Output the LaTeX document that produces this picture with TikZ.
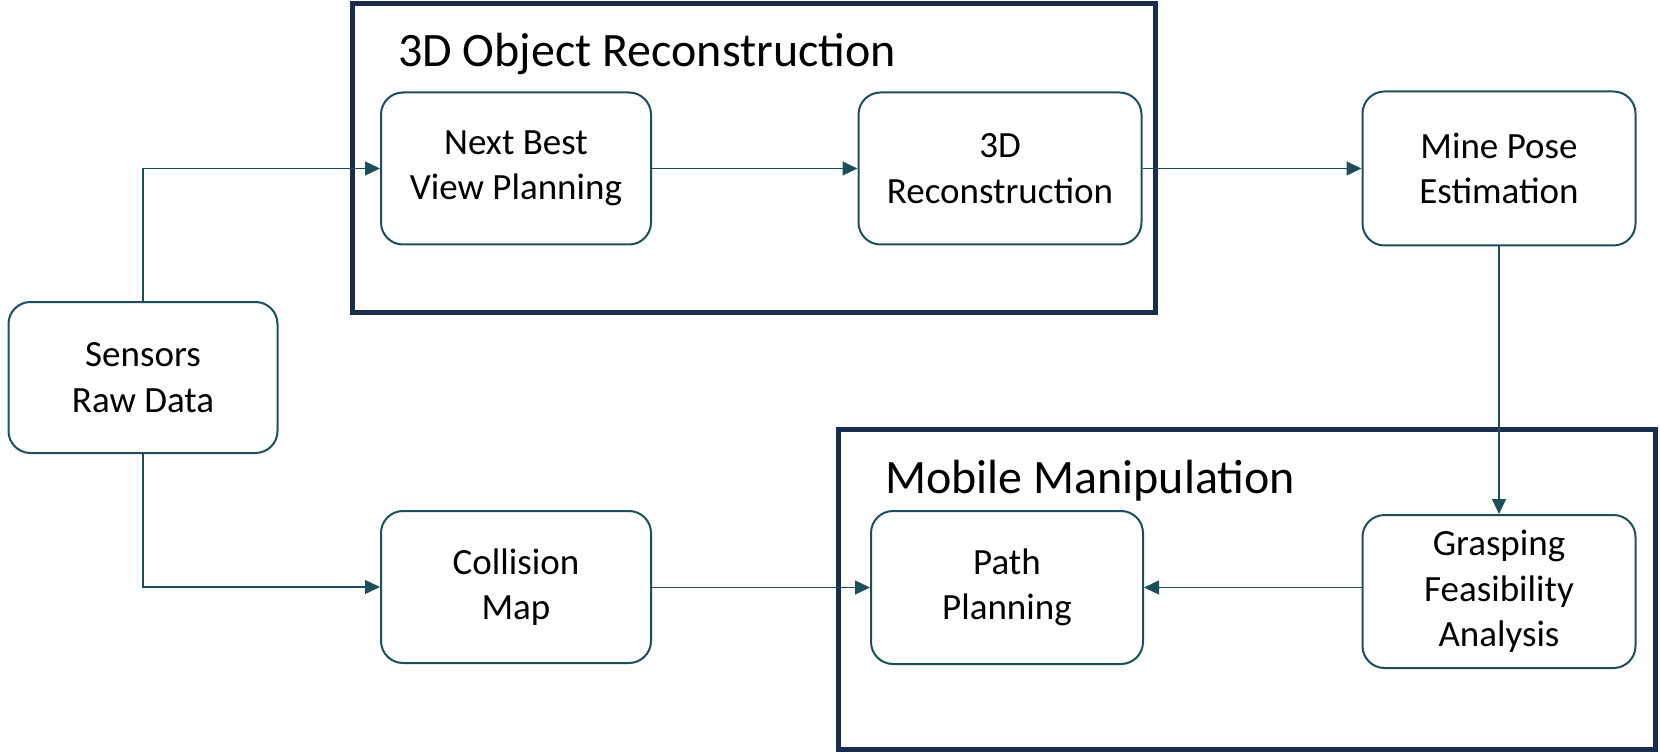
\documentclass[tikz,border=0pt]{standalone}
\usepackage{fontspec}
\setmainfont{Carlito}
\usetikzlibrary{arrows.meta}
\definecolor{boxc}{HTML}{1F4E5B}
\definecolor{navyc}{HTML}{1B2D4F}
\begin{document}
\begin{tikzpicture}[x=1pt,y=-1pt,
  proc/.style={draw=boxc, line width=2pt, rounded corners=22pt, align=center,
    font=\fontsize{37}{45.5}\selectfont, inner sep=0pt, fill=white},
  grp/.style={draw=navyc, line width=5pt, rectangle, inner sep=0pt},
  ttl/.style={anchor=base west, inner sep=0pt, font=\fontsize{48}{58}\selectfont},
  conn/.style={draw=boxc, line width=1.4pt, -{Triangle[length=15pt,width=14pt]}}]
\useasboundingbox (0,0) rectangle (1660,754);
% group frames
\node[grp, minimum width=803pt, minimum height=308.5pt] (ga) at (754,158.25) {};
\node[grp, minimum width=817pt, minimum height=320pt] (gb) at (1247,589.5) {};
\node[ttl] (ta) at (398,67) {3D Object Reconstruction};
\node[ttl] (tb) at (885,493) {Mobile Manipulation};
% process boxes
\node[proc, minimum width=270pt, minimum height=152pt] (nbv) at (516,168.5) {Next Best\\View Planning};
\node[proc, minimum width=283pt, minimum height=152pt] (rec) at (1000,168.5) {3D\\Reconstruction};
\node[proc, minimum width=273pt, minimum height=154pt] (mpe) at (1499,168.5) {Mine Pose\\Estimation};
\node[proc, minimum width=269pt, minimum height=151pt] (sens) at (143,377.5) {Sensors\\Raw Data};
\node[proc, minimum width=270pt, minimum height=152pt] (coll) at (516,587) {Collision\\Map};
\node[proc, minimum width=272pt, minimum height=153pt] (path) at (1007,587.5) {Path\\Planning};
\node[proc, minimum width=273pt, minimum height=153pt] (gfa) at (1499,591.5) {Grasping\\Feasibility\\Analysis};
% connectors
\draw[conn] (sens.north) |- (nbv.west);
\draw[conn] (sens.south) |- (coll.west);
\draw[conn] (nbv.east) -- (rec.west);
\draw[conn] (rec.east) -- (mpe.west);
\draw[conn] (mpe.south) -- (gfa.north);
\draw[conn] (gfa.west |- path.east) -- (path.east);
\draw[conn] (coll.east |- path.west) -- (path.west);
\end{tikzpicture}
\end{document}
